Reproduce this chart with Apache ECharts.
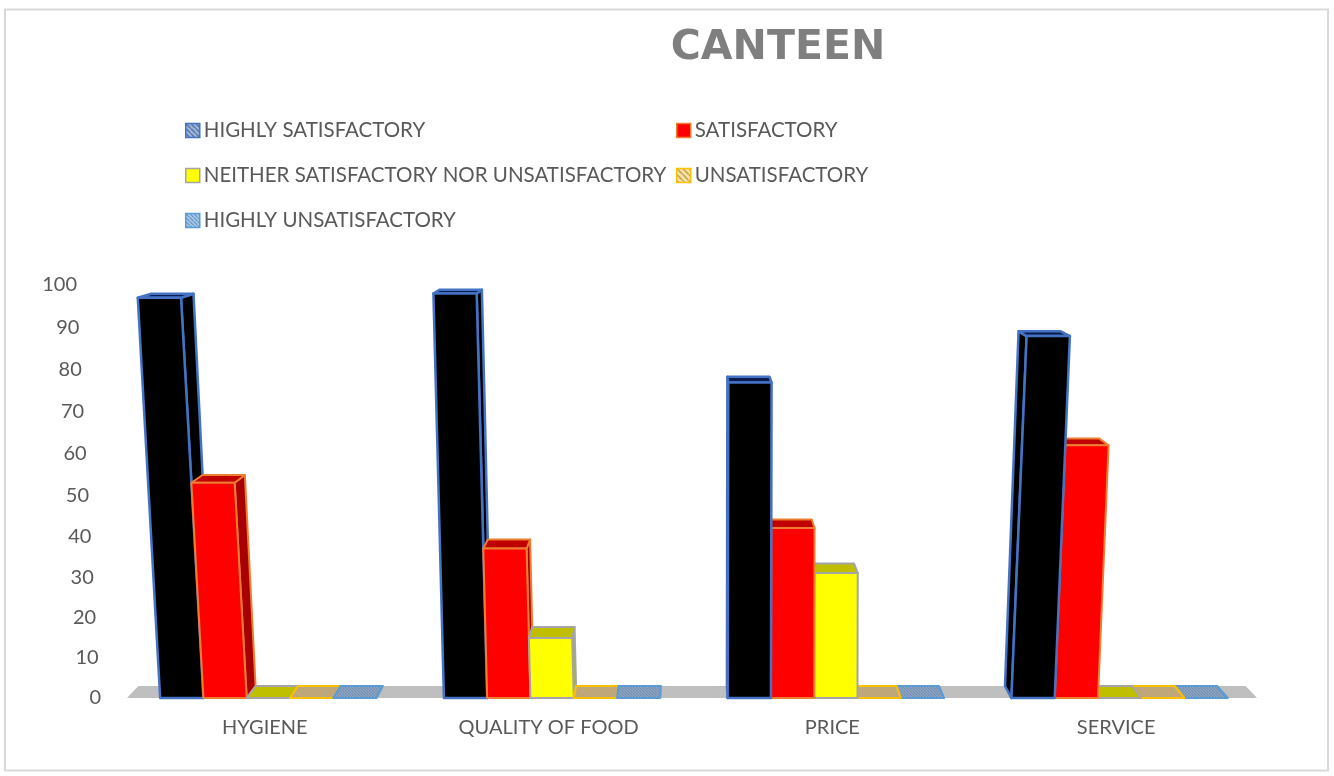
<!DOCTYPE html>
<html>
<head>
<meta charset="utf-8">
<title>CANTEEN</title>
<style>
  html, body { margin: 0; background: #fff; }
  #chart { width: 1334px; height: 776px; }
</style>
<script src="https://cdn.jsdelivr.net/npm/echarts@6/dist/echarts.min.js"></script>
</head>
<body>
<div id="chart"></div>
<script>
// data
var categories = ['HYGIENE', 'QUALITY OF FOOD', 'PRICE', 'SERVICE'];
var seriesNames = [
  'HIGHLY SATISFACTORY',
  'SATISFACTORY',
  'NEITHER SATISFACTORY NOR UNSATISFACTORY',
  'UNSATISFACTORY',
  'HIGHLY UNSATISFACTORY'
];
var highlySatisfactory = [97, 98, 77, 88];
var satisfactory = [53, 37, 42, 62];
var neither = [0, 15, 31, 0];
var unsatisfactory = [0, 0, 0, 0];
var highlyUnsatisfactory = [0, 0, 0, 0];
var yTicks = [0, 10, 20, 30, 40, 50, 60, 70, 80, 90, 100];

var fontName = 'Lato';
var textColor = '#595959';

// small tiled fill, like the office hatch patterns
function makeHatch(bg, fg, step) {
  var c = document.createElement('canvas');
  c.width = c.height = step;
  var ctx = c.getContext('2d');
  ctx.fillStyle = bg;
  ctx.fillRect(0, 0, step, step);
  ctx.strokeStyle = fg;
  ctx.lineWidth = 1.2;
  ctx.beginPath();
  ctx.moveTo(0, 0);
  ctx.lineTo(step, step);
  ctx.stroke();
  return { image: c, repeat: 'repeat' };
}

var barStyles = [
  { front: '#000000', side: '#000000', top: '#0b1c4d', border: '#4472c4', width: 2.5,
    icon: makeHatch('#a9bbdc', '#2f5597', 5) },
  { front: '#ff0000', side: '#a80000', top: '#c00000', border: '#ed7d31', width: 2,
    icon: '#ff0000' },
  { front: '#ffff00', side: '#a8a832', top: '#bfbf00', border: '#a5a5a5', width: 2,
    icon: '#ffff00' },
  { front: '#bfa77a', side: '#bfa77a', top: '#bfa77a', border: '#ffc000', width: 2,
    icon: makeHatch('#fbe5a8', '#a5842c', 6) },
  { front: '#8aa2c4', side: '#8aa2c4', top: makeHatch('#8aa7cc', '#7a8ea8', 3), border: '#5b9bd5', width: 2,
    icon: makeHatch('#bcd6ee', '#3f7cb8', 4) }
];

// the picture is a 3D office chart: these only shape the perspective
var lean = [-0.056, -0.026, 0.002, 0.042];   // sideways drift of a bar per pixel of height
var vanishX = 690;
function depthX(x, h) { return 0.02 * (vanishX - x) * (1 + 0.0007 * h); }
function depthY(h) { return 12 - 0.02 * h; }
// the value scale opens up slightly towards the top
function proj(v) { return v * (0.965 + 0.00035 * v); }

var legendPos = [
  { left: 185, top: 120 },
  { left: 676, top: 120 },
  { left: 185, top: 165 },
  { left: 676, top: 165 },
  { left: 185, top: 210 }
];

function renderBar(seriesIdx) {
  return function (params, api) {
    var cat = api.value(0);
    var size = api.size([1, 0])[0];
    var base = api.coord([cat, 0]);
    var topPt = api.coord([cat, proj(api.value(1))]);
    var barW = size * 0.1525;
    var x0 = base[0] - size * 0.369 + seriesIdx * barW;
    var x1 = x0 + barW;
    var y0 = base[1];
    var yt = topPt[1];
    var h = y0 - yt;
    var drift = lean[cat] * h;
    var st = barStyles[seriesIdx];
    var dx0 = depthX(x0, h), dx1 = depthX(x1, h), dy = depthY(h);
    var order = (dx0 < 0 ? 4 - seriesIdx : seriesIdx) * 10;

    var frontTL = [x0 + drift, yt], frontTR = [x1 + drift, yt];
    var backTL = [x0 + drift + dx0, yt - dy], backTR = [x1 + drift + dx1, yt - dy];
    var children = [];

    function poly(points, fill, z) {
      children.push({
        type: 'polygon',
        z2: order + z,
        shape: { points: points },
        style: { fill: fill, stroke: st.border, lineWidth: st.width, lineJoin: 'round' }
      });
    }

    if (h > 0) {
      if (dx0 > 0) {
        poly([[x1, y0], frontTR, backTR, [x1 + depthX(x1, 0), y0 - 12]], st.side, 0);
      } else {
        poly([[x0, y0], frontTL, backTL, [x0 + depthX(x0, 0), y0 - 12]], st.side, 0);
      }
    }
    poly([frontTL, frontTR, backTR, backTL], st.top, 1);
    if (h > 0) {
      poly([[x0, y0], [x1, y0], frontTR, frontTL], st.front, 2);
    }
    return { type: 'group', children: children };
  };
}

function renderFloor(params, api) {
  var sys = params.coordSys;
  var y0 = api.coord([0, 0])[1];
  var xl = sys.x + 4, xr = sys.x + sys.width - 1;
  return {
    type: 'polygon',
    z2: -1,
    shape: { points: [[xl, y0], [xr, y0], [xr + depthX(xr, 0), y0 - 12], [xl + depthX(xl, 0), y0 - 12]] },
    style: { fill: '#bfbfbf' }
  };
}

var allValues = [highlySatisfactory, satisfactory, neither, unsatisfactory, highlyUnsatisfactory];

var series = [{
  type: 'custom',
  name: 'floor',
  coordinateSystem: 'cartesian2d',
  renderItem: renderFloor,
  data: [[0, 0]],
  encode: { x: 0, y: 1 },
  silent: true
}];
var legends = [];
seriesNames.forEach(function (name, i) {
  series.push({
    type: 'custom',
    name: name,
    coordinateSystem: 'cartesian2d',
    renderItem: renderBar(i),
    data: allValues[i].map(function (v, c) { return [c, v]; }),
    encode: { x: 0, y: 1 }
  });
  legends.push({
    data: [{ name: name, icon: 'rect' }],
    left: legendPos[i].left,
    top: legendPos[i].top,
    padding: 0,
    itemWidth: 14,
    itemHeight: 14,
    itemGap: 0,
    selectedMode: false,
    itemStyle: {
      color: barStyles[i].icon,
      borderColor: barStyles[i].border,
      borderWidth: 1.5
    },
    textStyle: { color: textColor, fontFamily: fontName, fontSize: 20.5, padding: [0, 0, 0, -1] }
  });
});

// y labels run along a slant in the picture, so each one gets its own right padding
var tickRich = {};
yTicks.forEach(function (t, i) {
  tickRich['t' + i] = {
    color: textColor, fontFamily: fontName, fontSize: 20,
    padding: [0, 24 * t / 100, 0, 0]
  };
});

var option = {
  animation: false,
  backgroundColor: '#ffffff',
  title: {
    text: 'CANTEEN',
    left: 778,
    top: 28,
    textAlign: 'center',
    padding: 0,
    textStyle: { color: '#7f7f7f', fontFamily: 'DejaVu Sans', fontWeight: 'bold', fontSize: 41 }
  },
  graphic: [{
    type: 'rect',
    silent: true,
    z: -10,
    shape: { x: 5, y: 9.5, width: 1323, height: 761 },
    style: { fill: 'none', stroke: '#d9d9d9', lineWidth: 2 }
  }],
  legend: legends,
  grid: { left: 123, top: 285, width: 1135, height: 413 },
  xAxis: {
    type: 'category',
    data: categories,
    axisLine: { show: false },
    axisTick: { show: false },
    splitLine: { show: false },
    axisLabel: { color: textColor, fontFamily: fontName, fontSize: 20, margin: 20 }
  },
  yAxis: {
    type: 'value',
    min: 0,
    max: 100,
    axisLine: { show: false },
    axisTick: { show: false },
    splitLine: { show: false },
    axisLabel: {
      margin: 22,
      customValues: yTicks.map(proj),
      formatter: function (val) {
        // custom positions come back here, find which tick this one is
        var idx = 0;
        yTicks.forEach(function (t, i) {
          if (Math.abs(proj(t) - val) < Math.abs(proj(yTicks[idx]) - val)) { idx = i; }
        });
        return '{t' + idx + '|' + yTicks[idx] + '}';
      },
      rich: tickRich
    }
  },
  series: series
};

var chart = echarts.init(document.getElementById('chart'));
chart.setOption(option);
</script>
</body>
</html>
